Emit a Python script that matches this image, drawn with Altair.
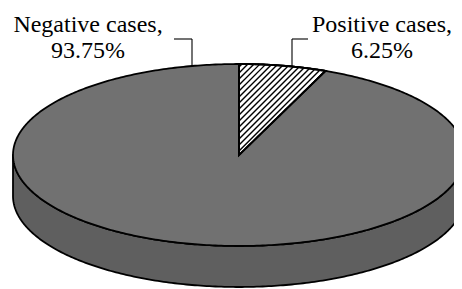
import numpy as np
import pandas as pd
import altair as alt

# ---- data -------------------------------------------------------------
categories = ["Negative cases", "Positive cases"]
percent = [93.75, 6.25]
label_text = ["Negative cases,\n93.75%", "Positive cases,\n6.25%"]

# ---- layout (pixels in chart space) ------------------------------------
W, H = 446, 281
CX, CY = 231.0, 147.0        # centre of the pie's top face
RX, RY = 226.0, 91.0         # ellipse radii of the top face
DEPTH = 41.0                 # thickness of the disc
TOP_COL = "#717171"
SIDE_COL = "#5f5f5f"
FONT = "Liberation Serif, Times New Roman, serif"

xs = alt.Scale(domain=[0, W], nice=False, zero=False)
ys = alt.Scale(domain=[H, 0], nice=False, zero=False)


def X(f):
    return alt.X(f, type="quantitative", scale=xs, axis=None)


def Y(f):
    return alt.Y(f, type="quantitative", scale=ys, axis=None)


# slice angles (clockwise from 12 o'clock), derived from the data
pos_share = percent[categories.index("Positive cases")]
a0 = 0.0
a1 = np.deg2rad(360.0 * pos_share / 100.0)

# side band (front half of the cylinder)
t = np.linspace(0, np.pi, 241)
side = pd.DataFrame({
    "x": CX - RX * np.cos(t),
    "ytop": CY + RY * np.sin(t),
    "ybot": CY + RY * np.sin(t) + DEPTH,
})

# whole top face (negative cases colour)
face = pd.DataFrame({
    "x": CX - RX * np.cos(t),
    "yu": CY - RY * np.sin(t),
    "yl": CY + RY * np.sin(t),
})

# positive sector
phi = np.linspace(a0, a1, 60)
px_end, py_end = CX + RX * np.sin(a1), CY - RY * np.cos(a1)
sx = CX + RX * np.sin(phi)
sector = pd.DataFrame({
    "x": sx,
    "yarc": CY - RY * np.cos(phi),
    "yline": CY + (sx - CX) * (py_end - CY) / (px_end - CX),
})

# hatching inside the positive sector (lines x + y = c)
poly = [(CX, CY)] + list(zip(sx, CY - RY * np.cos(phi)))
vals = [p[0] + p[1] for p in poly]
segs = []
c = min(vals) + 3.0
while c < max(vals):
    pts = []
    for i in range(len(poly)):
        p1, p2 = poly[i], poly[(i + 1) % len(poly)]
        f1 = p1[0] + p1[1] - c
        f2 = p2[0] + p2[1] - c
        if f1 == f2:
            continue
        if (f1 <= 0 <= f2) or (f2 <= 0 <= f1):
            k = f1 / (f1 - f2)
            pts.append((p1[0] + k * (p2[0] - p1[0]), p1[1] + k * (p2[1] - p1[1])))
    if len(pts) >= 2:
        pts.sort()
        segs.append({"x": pts[0][0], "y": pts[0][1], "x2": pts[-1][0], "y2": pts[-1][1]})
    c += 6.0
hatch = pd.DataFrame(segs)

# labels and leader lines
labels = pd.DataFrame({"x": [80, 374], "y": [24, 24], "text": label_text})


def top_y(x):
    return CY - RY * np.sqrt(1 - ((x - CX) / RX) ** 2)


leaders = pd.DataFrame({
    "x": [166, 184, 284, 284],
    "y": [31, 31, 31, 31],
    "x2": [184, 184, 284, 300],
    "y2": [31, top_y(184), top_y(284), 31],
})

side_layer = alt.Chart(side).mark_area(
    fill=SIDE_COL, stroke="black", strokeWidth=1.8, strokeJoin="round"
).encode(x=X("x"), y=Y("ybot"), y2="ytop")

face_layer = alt.Chart(face).mark_area(
    fill=TOP_COL, stroke="black", strokeWidth=1.8, strokeJoin="round"
).encode(x=X("x"), y=Y("yu"), y2="yl")

sector_layer = alt.Chart(sector).mark_area(
    fill="white", stroke="black", strokeWidth=1.8
).encode(x=X("x"), y=Y("yarc"), y2="yline")

hatch_layer = alt.Chart(hatch).mark_rule(
    color="black", strokeWidth=1.4
).encode(x=X("x"), y=Y("y"), x2="x2", y2="y2")

sector_outline = alt.Chart(sector).mark_area(
    fill="transparent", stroke="black", strokeWidth=2
).encode(x=X("x"), y=Y("yarc"), y2="yline")

leader_layer = alt.Chart(leaders).mark_rule(
    color="black", strokeWidth=1.1
).encode(x=X("x"), y=Y("y"), x2="x2", y2="y2")

text_layer = alt.Chart(labels).mark_text(
    font=FONT, fontSize=24, align="center", baseline="alphabetic",
    lineBreak="\n", lineHeight=26, color="black"
).encode(x=X("x"), y=Y("y"), text="text:N")

chart = alt.layer(
    side_layer, face_layer, sector_layer, hatch_layer, sector_outline,
    leader_layer, text_layer
).properties(
    width=W, height=H, padding=0, autosize=alt.AutoSizeParams(type="none"),
    background="white"
).configure_view(stroke=None)

chart.save("out.html", embed_options={"renderer": "svg", "actions": False})
